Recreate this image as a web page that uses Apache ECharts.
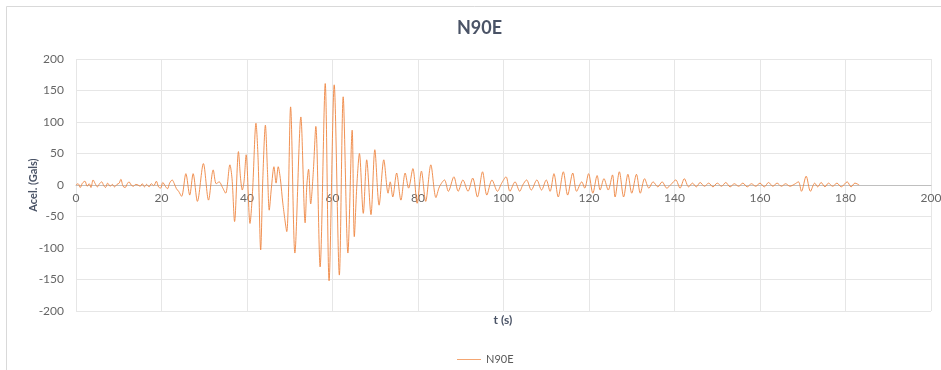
<!DOCTYPE html>
<html>
<head>
<meta charset="utf-8">
<script src="https://cdn.jsdelivr.net/npm/echarts@6/dist/echarts.min.js"></script>
<style>
  html, body { margin: 0; padding: 0; background: #fff; }
  #chart { width: 941px; height: 370px; }
</style>
</head>
<body>
<div id="chart"></div>
<script>
// 时间 (s) 和加速度 (Gals)，从原图读出的大致峰值
const times = [
  0, 0.5, 1.0, 1.5, 2.1, 2.6, 3.1, 3.5, 4.0, 4.5, 5.0, 5.5, 6.0, 6.5, 6.9, 7.4, 8.0, 8.5, 9.0, 9.6,
  10.1, 10.5, 11.0, 11.5, 12.0, 12.4, 12.9, 13.4, 14.0, 14.5, 15.0, 15.5, 16.0, 16.5, 17.1, 17.6, 18.2, 18.8, 19.3, 19.8,
  20.3, 20.9, 21.4, 21.9, 22.5, 23.0, 23.5, 24.0, 24.7, 25.7, 26.6, 27.4, 28.4, 29.8, 31.0, 32.1, 32.8, 33.5, 34.2, 35.0,
  36.0, 36.5, 37.1, 38.0, 38.5, 38.9, 39.3, 39.8, 40.7, 41.3, 42.1, 42.6, 43.2, 43.7, 44.3, 44.8, 45.2, 45.7, 46.3, 46.8,
  47.3, 47.8, 48.4, 49.3, 50.2, 51.2, 52.6, 53.6, 54.0, 54.4, 54.9, 55.5, 56.1, 57.1, 58.3, 59.2, 60.4, 61.6, 62.5, 63.6,
  64.6, 65.1, 65.7, 66.3, 67.2, 68.0, 69.0, 69.9, 70.9, 72.0, 73.0, 73.5, 74.1, 75.0, 76.0, 77.0, 77.8, 78.8, 79.8, 80.8,
  81.8, 83.0, 84.2, 85.0, 86.2, 87.1, 88.4, 89.4, 90.5, 91.7, 92.8, 93.9, 95.1, 96.1, 97.3, 98.6, 99.5, 100.6, 101.5, 102.7,
  103.8, 104.5, 105.4, 106.5, 107.8, 108.9, 110.0, 110.9, 111.8, 112.8, 114.0, 115.0, 116.2, 117.1, 118.3, 119.0, 119.9, 120.9, 121.9, 122.6,
  123.5, 124.5, 125.5, 126.1, 127.1, 128.1, 129.1, 130.0, 131.1, 132.0, 133.0, 134.0, 135.0, 136.1, 137.1, 138.2, 139.2, 140.3, 141.3, 142.3,
  143.3, 144.2, 145.1, 146.0, 147.0, 148.0, 149.0, 150.0, 151.0, 152.0, 153.0, 154.0, 155.0, 156.0, 157.0, 158.0, 159.0, 160.0, 161.0, 162.0,
  163.0, 164.0, 165.0, 166.0, 167.0, 168.0, 169.0, 169.7, 170.8, 171.8, 172.8, 173.5, 174.3, 175.2, 176.0, 177.0, 178.0, 179.0, 180.4, 181.3,
  182.2, 183.2
];
const accel = [
  0, 2, -4, 3, 6, -2, 2, -4, 8, 2, -3, 2, 5, -1, -4, 3, -2, 1, -3, 1,
  3, 9, -2, -4, 2, 5, 0, -2, 1, 0, -2, 2, -3, 1, -3, 2, -1, 6, -3, -5,
  4, -2, -6, 3, 8, 2, -6, -10, -18, 18, -16, 18, -26, 34, -24, 24, 2, 5, -3, -13,
  32, 10, -58, 53, 10, -8, 5, 48, -61, -10, 98, 40, -103, 10, 95, 20, -40, -5, 29, 3,
  29, 10, -30, -74, 124, -108, 108, -60, 0, 25, -30, 20, 93, -130, 161, -152, 159, -143, 140, -108,
  87, -82, 0, 50, -45, 40, -47, 56, -32, 40, -13, 5, -19, 19, -24, 19, -5, 26, -29, 22,
  -26, 32, -20, -3, 8, -10, 13, -10, 8, -10, 11, -19, 21, -16, 8, -10, 2, 13, -10, 5,
  -10, 0, 8, -8, 8, -8, 8, -10, 18, -19, 21, -16, 19, -10, 5, -5, 18, -13, 15, -8,
  10, -8, 16, -19, 21, -19, 17, -13, 17, -13, 10, -5, 5, -3, 5, -5, 1, 8, -5, 10,
  -3, 3, -3, 4, -2, 3, -3, 3, -2, 4, -3, 2, -2, 3, -3, 2, -2, 3, -3, 4,
  -2, 3, -2, 2, -2, 1, 5, -10, 14, -10, 3, -3, 4, -3, 3, -2, 3, -3, 5, -3,
  3, 0
];
const seriesName = 'N90E';
const xTicks = { min: 0, max: 200, interval: 20 };
const yTicks = { min: -200, max: 200, interval: 50 };

const chart = echarts.init(document.getElementById('chart'));
const font = 'Lato, "Open Sans", sans-serif';

const option = {
  backgroundColor: '#fff',
  animation: false,
  textStyle: { fontFamily: font },
  title: {
    text: 'N90E',
    left: 457,
    top: 19,
    padding: 0,
    textStyle: { fontSize: 18, fontWeight: 'bold', color: '#4A5366', fontFamily: font }
  },
  graphic: [{
    type: 'rect',
    shape: { x: 6.5, y: 6.5, width: 960, height: 400 },
    style: { fill: 'none', stroke: '#D9D9D9', lineWidth: 1 },
    silent: true
  }, {
    // 横轴标题放在图表下方
    type: 'text',
    x: 503,
    y: 314,
    style: { text: 't (s)', fontSize: 12, fontWeight: 'bold', fill: '#4A5366', fontFamily: font, align: 'center' }
  }, {
    // 纵轴标题
    type: 'text',
    x: 33,
    y: 185,
    rotation: Math.PI / 2,
    style: { text: 'Acel. (Gals)', fontSize: 11, fontWeight: 'bold', fill: '#4A5366', fontFamily: font, align: 'center', verticalAlign: 'middle' }
  }],
  legend: {
    top: 349,
    left: 452,
    itemWidth: 24,
    itemHeight: 8,
    icon: 'path://M0,4 L24,4 L24,5 L0,5 Z',
    textStyle: { fontSize: 11, color: '#595959', fontFamily: font },
    data: [seriesName]
  },
  grid: { left: 76, right: 10, top: 59, bottom: 59, outerBoundsMode: 'none' },
  xAxis: {
    type: 'value',
    min: xTicks.min,
    max: xTicks.max,
    interval: xTicks.interval,
    axisLine: { onZero: true, lineStyle: { color: '#BFBFBF' } },
    axisTick: { show: false },
    // 标签贴着零线显示
    axisLabel: { fontSize: 12, color: '#666', margin: -119 },
    splitLine: { show: true, lineStyle: { color: '#E6E6E6' } }
  },
  yAxis: {
    type: 'value',
    min: yTicks.min,
    max: yTicks.max,
    interval: yTicks.interval,
    axisLine: { show: false },
    axisTick: { show: false },
    axisLabel: { fontSize: 12, color: '#666', margin: 12 },
    splitLine: { show: true, lineStyle: { color: '#E6E6E6' } }
  },
  series: [{
    name: seriesName,
    type: 'line',
    data: times.map((t, i) => [t, accel[i]]),
    showSymbol: false,
    smooth: 0.3,
    lineStyle: { color: '#EE8540', width: 1, opacity: 0.9 },
    itemStyle: { color: '#F4A672' }
  }]
};

chart.setOption(option);
</script>
</body>
</html>
